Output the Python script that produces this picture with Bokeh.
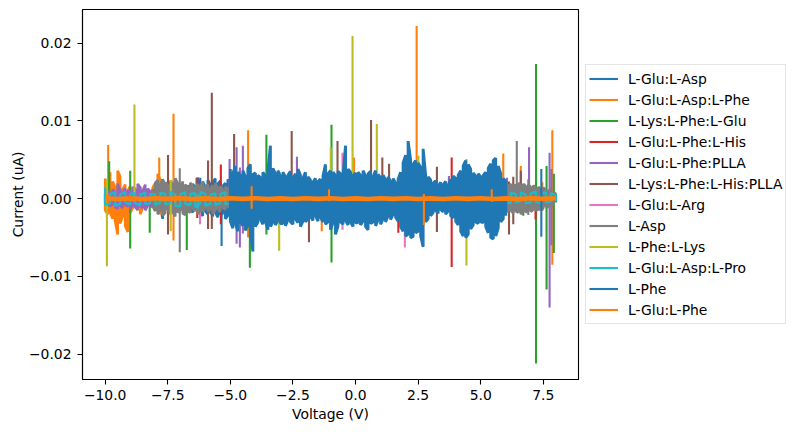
import numpy as np
from bokeh.plotting import figure
from bokeh.models import (Range1d, FixedTicker, Legend, LegendItem,
                          ColumnDataSource, CustomJSTickFormatter)
from bokeh.embed import file_html
from bokeh.resources import INLINE

# ---------------- data (currents in nA = 1e-3 uA) ----------------
series_names = ["L-Glu:L-Asp", "L-Glu:L-Asp:L-Phe", "L-Lys:L-Phe:L-Glu",
                "L-Glu:L-Phe:L-His", "L-Glu:L-Phe:PLLA", "L-Lys:L-Phe:L-His:PLLA",
                "L-Glu:L-Arg", "L-Asp", "L-Phe:L-Lys", "L-Glu:L-Asp:L-Pro",
                "L-Phe", "L-Glu:L-Phe"]
series_colors = ["#1f77b4", "#ff7f0e", "#2ca02c", "#d62728", "#9467bd", "#8c564b",
                 "#e377c2", "#7f7f7f", "#bcbd22", "#17becf", "#1f77b4", "#ff7f0e"]

x_ticks = [-10, -7.5, -5, -2.5, 0, 2.5, 5, 7.5]
y_ticks = [-0.02, -0.01, 0.0, 0.01, 0.02]

# noise envelopes: (start voltage, step, upper values, lower values)
glu_asp_band = [(-7.8, 0.1,
    [1.2, 2.5, 1.4, 0.9, 1.6, 1.1, 1.8, 1.3, 1.0, 1.5, 1.2, 1.7, 1.1, 1.9, 1.4,
     2.7, 1.6, 2.2, 1.5, 2.4, 1.8, 2.1, 2.6, 1.9, 2.3, 1.6, 2.0, 2.5, 1.8],
    [-1.0, -2.6, -1.3, -0.9, -1.5, -1.1, -1.7, -1.2, -1.0, -1.4, -1.1, -1.6, -1.2, -1.8, -1.3,
     -1.5, -1.9, -2.2, -1.6, -2.0, -1.7, -2.3, -1.8, -2.4, -2.1, -1.9, -2.6, -2.2, -2.0])]
glu_asp_spike_v = [-7.7, -6.2, -5.35]
glu_asp_spike_hi = [2.5, 2.7, 1.0]
glu_asp_spike_lo = [-2.6, -1.5, -6.1]

glu_asp_phe_band = [(-10.0, 0.1,
    [2.6, 1.8, 3.4, 2.2, 1.5, 3.6, 2.8, 1.2, 1.8, 1.0, 1.6, 0.9, 1.4,
     0.8, 1.6, 1.0, 0.8, 0.6, 1.0, 1.4, 2.0, 3.2, 2.4, 1.6, 1.2, 0.6],
    [-1.5, -2.0, -1.8, -2.6, -2.9, -4.6, -3.2, -2.2, -3.5, -4.3, -1.8, -1.2, -1.0,
     -1.5, -2.0, -1.2, -0.9, -0.8, -0.7, -1.0, -1.2, -1.5, -2.0, -1.3, -0.8, -0.6])]
glu_asp_phe_spike_v = [-9.88, -7.84, -7.27, -4.29, -1.35, -0.06, 2.44, 5.9, 6.6, 7.46, 7.86]
glu_asp_phe_spike_hi = [6.9, 5.3, 10.9, 8.8, 1.5, 5.3, 22.2, 5.8, 4.2, 2.1, 8.8]
glu_asp_phe_spike_lo = [-2.0, -1.5, -5.4, -5.0, -4.2, -1.0, -1.0, -1.5, -0.8, -1.6, -8.5]

lys_phe_glu_spike_v = [-9.84, -9.0, -8.22, -6.74, -4.22, -3.56, -0.96, 6.7, 7.21, 7.63, 7.92]
lys_phe_glu_spike_hi = [4.8, 3.6, 0.8, 0.8, 0.5, 8.2, 9.5, 0.6, 17.3, 4.2, 3.2]
lys_phe_glu_spike_lo = [-1.0, -6.4, -4.4, -6.6, -8.9, -4.6, -8.2, -2.2, -21.2, -11.7, -7.0]

glu_phe_his_spike_v = [-6.58, -6.32, -5.38, 1.71, 3.84, 5.3, 7.19]
glu_phe_his_spike_hi = [1.5, 2.7, 4.4, 0.5, 5.3, 3.2, 0.5]
glu_phe_his_spike_lo = [-1.5, -2.5, -3.3, -4.4, -8.8, -0.5, -2.7]

glu_phe_plla_band = [(-10.0, 0.1,
    [0.6, 0.9, 0.8, 1.2, 0.7, 1.9, 1.1, 0.8, 1.3, 1.0, 0.9, 1.5, 1.2, 1.9, 1.4,
     1.0, 1.8, 1.3, 0.9, 1.2, 0.8, 1.1, 0.7],
    [-0.6, -0.8, -1.0, -0.7, -1.1, -1.3, -0.9, -1.2, -0.8, -1.0, -1.3, -0.9, -1.1, -1.4, -1.0,
     -1.2, -1.5, -0.9, -1.1, -0.8, -1.0, -0.7, -0.9])]
glu_phe_plla_spike_v = [-5.03, -4.75, -4.62, -4.5, -2.34, 3.73, 5.2, 6.05, 6.93, 7.75, 7.82]
glu_phe_plla_spike_hi = [5.1, 6.6, 4.0, 6.8, 5.4, 2.9, 3.1, 2.7, 6.6, 5.9, 3.8]
glu_phe_plla_spike_lo = [-1.2, -5.8, -6.3, -4.5, -1.0, -1.0, -0.5, -0.5, -1.6, -14.0, -6.0]

lys_phe_his_plla_spike_v = [-7.49, -6.35, -5.89, -5.74, -4.85, -2.55, -1.86, -0.72,
                            0.62, 1.07, 1.34, 3.25, 6.13, 6.3, 6.6]
lys_phe_his_plla_spike_hi = [5.6, 2.7, 4.9, 13.6, 8.3, 8.7, 2.6, 7.4,
                             10.1, 5.3, 4.5, 4.1, 2.2, 2.8, 3.6]
lys_phe_his_plla_spike_lo = [-4.6, -1.0, -3.9, -3.9, -1.2, -1.0, -5.6, -3.1,
                             -3.1, -1.0, -2.0, -4.3, -4.6, -3.3, -1.0]

glu_arg_spike_v = [-6.21, -5.65, -0.52, 1.97, 7.25, 7.33]
glu_arg_spike_hi = [0.5, 0.8, 5.9, 1.2, 0.8, 1.2]
glu_arg_spike_lo = [-3.3, -0.8, -4.0, -6.3, -1.4, -1.6]

asp_band = [(-8.1, 0.1,
    [1.2, 2.0, 2.4, 1.8, 2.5, 2.1, 1.7, 2.3, 1.9, 2.6, 2.0, 1.6, 2.2, 1.8, 1.5, 2.0,
     1.7, 1.4, 1.9, 1.6, 2.1, 1.5, 1.8, 1.3, 1.7, 2.0, 1.4, 1.6, 1.2, 1.5, 1.3, 1.1],
    [-1.0, -1.6, -2.0, -1.5, -2.2, -1.8, -1.4, -2.0, -1.7, -2.3, -1.8, -1.5, -1.9, -2.1, -1.6, -1.8,
     -1.3, -1.6, -2.0, -1.5, -1.7, -1.2, -1.6, -1.4, -1.9, -1.5, -1.3, -1.7, -1.2, -1.4, -1.1, -1.0]),
    (6.0, 0.1,
    [1.2, 1.6, 1.9, 1.5, 1.8, 2.0, 1.7, 1.9, 1.6, 1.8, 1.5, 1.7, 1.3, 1.5, 1.2, 1.4,
     1.1, 1.0, 1.2, 0.9, 0.6],
    [-1.3, -1.7, -1.5, -1.9, -1.6, -1.8, -2.0, -1.6, -1.8, -1.5, -1.7, -1.4, -1.6, -1.3, -1.5, -1.2,
     -1.0, -1.1, -0.9, -0.8, -0.5])]
asp_spike_v = [-7.02, 6.44, 6.9]
asp_spike_hi = [3.9, 7.4, 2.5]
asp_spike_lo = [-6.9, -1.0, -2.1]

phe_lys_spike_v = [-9.93, -8.83, -7.38, -3.05, -0.99, -0.12, 0.85, 2.51, 4.43]
phe_lys_spike_hi = [2.5, 12.1, 2.4, 3.4, 6.6, 20.9, 9.6, 5.5, 5.1]
phe_lys_spike_lo = [-8.7, -0.5, -4.2, -6.7, -1.0, -0.9, -1.0, -2.7, -8.6]

glu_asp_pro_band = [(-10.0, 0.2,
    [1.4, 0.6, 0.8, 0.5, 0.9, 0.6, 0.7, 0.5, 0.8, 0.6, 0.5, 0.7, 0.6,
     0.9, 0.5, 0.6, 0.8, 0.6, 0.7, 0.9, 0.6, 0.5, 0.7, 0.6, 0.8, 0.5],
    [-0.8, -0.6, -0.9, -0.7, -0.5, -0.8, -0.6, -0.9, -0.7, -0.6, -0.8, -0.5, -0.7,
     -0.6, -0.9, -1.0, -0.7, -0.8, -1.1, -0.6, -0.9, -0.7, -0.8, -0.6, -0.7, -0.6]),
    (6.0, 0.2,
    [0.5, 0.7, 0.6, 0.8, 0.5, 0.7, 0.9, 0.6, 0.8, 0.7, 0.5],
    [-0.4, -0.6, -0.5, -0.3, -0.6, -0.5, -0.4, -0.6, -0.5, -0.4, -0.3])]
glu_asp_pro_spike_v = [-6.3]
glu_asp_pro_spike_hi = [0.6]
glu_asp_pro_spike_lo = [-1.3]

phe_band = [(-5.0, 0.1,
    [3.8, 3.2, 4.2, 3.4, 3.0, 3.6, 2.8, 3.9, 4.4, 3.1, 3.3,
     3.0, 2.7, 3.4, 2.9, 3.6, 6.8, 3.9, 3.2, 3.6, 2.9,
     3.4, 2.8, 3.0, 3.5, 2.6, 3.2, 3.8, 3.0, 2.6, 3.4,
     2.8, 2.4, 2.1, 2.6, 2.2, 2.5, 2.9, 4.4, 3.2, 3.6,
     3.4, 3.0, 3.5, 3.2, 2.9, 6.8, 3.8, 3.4, 3.0, 3.3,
     3.4, 3.0, 3.6, 2.9, 3.2, 3.5, 2.8, 3.6, 3.1, 2.7,
     3.0, 2.4, 2.8, 2.2, 2.6, 2.0, 2.5, 3.4, 4.6, 5.6,
     7.4, 5.0, 4.4, 4.9, 4.6, 4.0, 6.4, 3.0, 2.8, 2.4,
     2.0, 2.3, 1.6, 2.1, 1.8, 2.2, 1.7, 2.5, 2.9, 2.6,
     3.0, 3.6, 4.2, 4.9, 4.4, 3.8, 3.3, 2.9, 3.2, 2.8,
     3.0, 3.4, 3.9, 4.5, 4.9, 5.2, 4.2, 3.2, 2.6, 2.2],
    [-2.9, -3.8, -3.2, -4.2, -3.0, -3.5, -4.1, -3.4, -4.5, -6.8, -3.6,
     -3.0, -2.6, -3.3, -2.9, -4.0, -3.6, -3.0, -3.4, -2.8, -3.2,
     -3.2, -3.5, -2.7, -3.0, -3.3, -2.6, -3.1, -3.6, -2.9, -3.0,
     -2.6, -2.3, -2.8, -2.2, -2.9, -2.4, -3.0, -3.3, -3.0, -4.0,
     -3.1, -4.6, -3.5, -3.0, -3.3, -2.8, -3.4, -3.0, -3.6, -3.1,
     -3.1, -3.4, -2.9, -3.6, -4.0, -3.2, -3.0, -3.5, -2.7, -3.3,
     -2.6, -3.0, -2.2, -2.7, -2.0, -2.4, -2.9, -3.6, -4.2, -4.8,
     -4.6, -5.0, -4.9, -4.4, -4.2, -4.8, -6.2, -3.0, -2.6, -2.2,
     -1.8, -1.5, -1.9, -1.4, -1.7, -2.0, -1.6, -2.2, -2.5, -2.9,
     -3.4, -4.2, -4.8, -5.0, -4.6, -3.9, -3.4, -3.0, -3.2, -3.0,
     -3.1, -3.6, -4.4, -5.0, -5.2, -4.8, -3.8, -3.0, -2.6, -2.2])]
phe_spike_v = [7.42]
phe_spike_hi = [3.8]
phe_spike_lo = [-4.9]

# L-Glu:L-Phe: near-zero trace sampled every 0.5 V from -10 V
glu_phe_trace_v0 = -10.0
glu_phe_trace_step = 0.5
glu_phe_trace = [0.05, -0.04, 0.03, -0.05, 0.04, -0.03, 0.05, -0.04, 0.03, -0.05,
                 0.04, -0.03, 0.05, -0.04, 0.03, -0.05, 0.04, -0.03, 0.05, -0.04,
                 0.03, -0.05, 0.04, -0.03, 0.05, -0.04, 0.03, -0.05, 0.04, -0.03,
                 0.05, -0.04, 0.03, -0.05, 0.04, -0.03, 0.04]
glu_phe_spike_v = [-9.9, -7.2, -4.15, -1.06, 2.73, 5.44]
glu_phe_spike_hi = [0.6, 0.5, 1.6, 1.2, 0.6, 1.2]
glu_phe_spike_lo = [-0.6, -0.5, -1.3, -0.3, -3.4, -0.4]

series_bands = [glu_asp_band, glu_asp_phe_band, [], [], glu_phe_plla_band, [], [],
                asp_band, [], glu_asp_pro_band, phe_band, []]
series_spikes = [
    (glu_asp_spike_v, glu_asp_spike_hi, glu_asp_spike_lo),
    (glu_asp_phe_spike_v, glu_asp_phe_spike_hi, glu_asp_phe_spike_lo),
    (lys_phe_glu_spike_v, lys_phe_glu_spike_hi, lys_phe_glu_spike_lo),
    (glu_phe_his_spike_v, glu_phe_his_spike_hi, glu_phe_his_spike_lo),
    (glu_phe_plla_spike_v, glu_phe_plla_spike_hi, glu_phe_plla_spike_lo),
    (lys_phe_his_plla_spike_v, lys_phe_his_plla_spike_hi, lys_phe_his_plla_spike_lo),
    (glu_arg_spike_v, glu_arg_spike_hi, glu_arg_spike_lo),
    (asp_spike_v, asp_spike_hi, asp_spike_lo),
    (phe_lys_spike_v, phe_lys_spike_hi, phe_lys_spike_lo),
    (glu_asp_pro_spike_v, glu_asp_pro_spike_hi, glu_asp_pro_spike_lo),
    (phe_spike_v, phe_spike_hi, phe_spike_lo),
    (glu_phe_spike_v, glu_phe_spike_hi, glu_phe_spike_lo),
]
band_widths = [2.6, 2.6, 2.6, 2.6, 2.6, 2.6, 2.6, 2.6, 2.6, 2.2, 2.9, 2.6]

NA_TO_UA = 1e-3


def comb(bands):
    xs, ys = [], []
    for (v0, step, hi, lo) in bands:
        if xs:
            xs.append(np.nan)
            ys.append(np.nan)
        for i, (h, l) in enumerate(zip(hi, lo)):
            v = v0 + step * i
            pair = (h, l) if i % 2 == 0 else (l, h)
            xs += [v, v]
            ys += [pair[0] * NA_TO_UA, pair[1] * NA_TO_UA]
    return xs, ys


# ---------------- figure ----------------
p = figure(frame_width=496, frame_height=370, output_backend="svg",
           toolbar_location=None,
           x_range=Range1d(-10.905, 8.905), y_range=Range1d(-0.02326, 0.02432),
           min_border_left=82, min_border_right=0, min_border_top=9,
           min_border_bottom=51)
p.background_fill_color = "white"
p.border_fill_color = "white"
p.outline_line_color = "black"
p.outline_line_width = 1.1
p.outline_line_alpha = 1.0
p.xgrid.visible = False
p.ygrid.visible = False

items = []
for k, name in enumerate(series_names):
    col = series_colors[k]
    if series_bands[k]:
        bx, by = comb(series_bands[k])
        p.line(bx, by, line_color=col, line_width=band_widths[k])
    if k == 11:
        tv = [glu_phe_trace_v0 + glu_phe_trace_step * i for i in range(len(glu_phe_trace))]
        p.line(tv, [c * NA_TO_UA for c in glu_phe_trace], line_color=col,
               line_width=4.6)
    sv, sh, sl = series_spikes[k]
    src = ColumnDataSource(dict(v=sv, hi=[h * NA_TO_UA for h in sh],
                                lo=[l * NA_TO_UA for l in sl]))
    r = p.segment(x0="v", y0="lo", x1="v", y1="hi", source=src,
                  line_color=col, line_width=2.1)
    items.append(LegendItem(label=name, renderers=[r]))

# axes
p.xaxis.ticker = FixedTicker(ticks=x_ticks)
p.yaxis.ticker = FixedTicker(ticks=y_ticks)
p.xaxis.formatter = CustomJSTickFormatter(
    code="return (tick < 0 ? '\u2212' : '') + Math.abs(tick).toFixed(1);")
p.yaxis.formatter = CustomJSTickFormatter(
    code="return (tick < -1e-9 ? '\u2212' : '') + Math.abs(tick).toFixed(2);")
p.xaxis.axis_label = "Voltage (V)"
p.yaxis.axis_label = "Current (uA)"
for ax in (p.xaxis[0], p.yaxis[0]):
    ax.axis_line_color = "black"
    ax.axis_line_width = 1.1
    ax.major_tick_line_color = "black"
    ax.major_tick_line_width = 1.1
    ax.major_tick_out = 5
    ax.major_tick_in = 0
    ax.minor_tick_out = 0
    ax.minor_tick_in = 0
    ax.major_label_text_font = "DejaVu Sans"
    ax.major_label_text_font_size = "13.9px"
    ax.major_label_text_color = "black"
    ax.axis_label_text_font = "DejaVu Sans"
    ax.axis_label_text_font_size = "13.9px"
    ax.axis_label_text_font_style = "normal"
    ax.axis_label_text_color = "black"
p.yaxis.major_label_standoff = 6
p.xaxis.major_label_standoff = 5
p.yaxis.axis_label_standoff = 0
p.xaxis.axis_label_standoff = 3

legend = Legend(items=items, location="center_left")
legend.label_text_font = "DejaVu Sans"
legend.label_text_font_size = "13.9px"
legend.label_text_color = "black"
legend.glyph_width = 29
legend.glyph_height = 21
legend.label_height = 21
legend.label_standoff = 10
legend.spacing = 0
legend.padding = 3
legend.margin = 7
legend.border_line_color = "#cccccc"
legend.border_line_width = 1
legend.background_fill_color = "white"
legend.background_fill_alpha = 0.8
p.add_layout(legend, "right")

open("out.html", "w").write(file_html(p, INLINE))
